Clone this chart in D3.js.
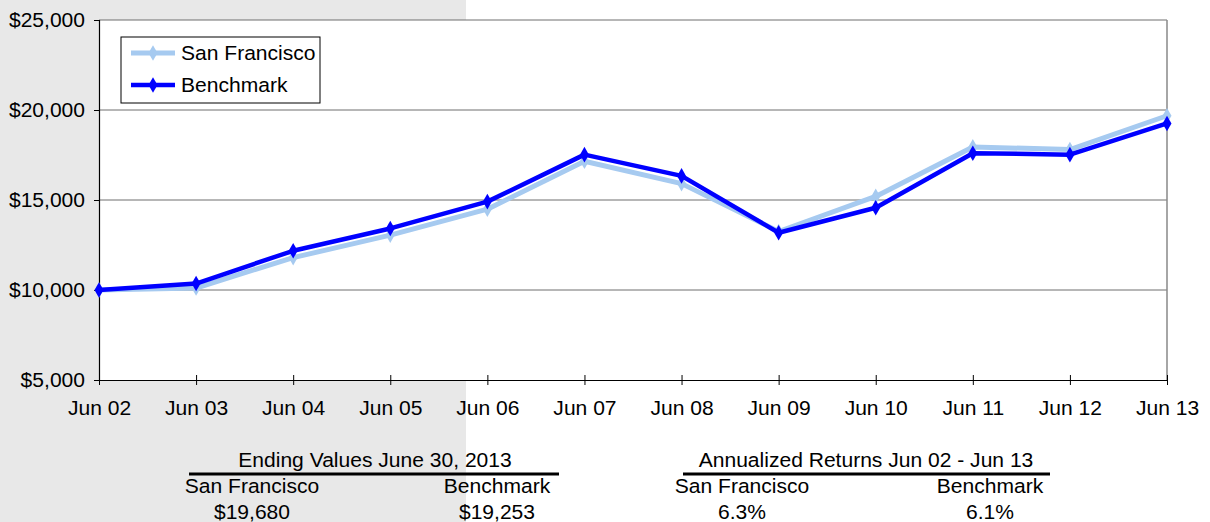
<!DOCTYPE html>
<html>
<head>
<meta charset="utf-8">
<script src="https://cdn.jsdelivr.net/npm/d3@7"></script>
<style>
  body { margin: 0; background: #fff; }
  svg { display: block; font-family: "Liberation Sans", Arial, sans-serif; }
  text { transform-box: fill-box; transform-origin: center; transform: scaleX(1.08); fill: #000; }
  .y-axis text { transform-origin: right center; }
  .legend text { transform-origin: left center; }
</style>
</head>
<body>
<div id="chart"></div>
<script>
const periods = ["Jun 02", "Jun 03", "Jun 04", "Jun 05", "Jun 06", "Jun 07", "Jun 08", "Jun 09", "Jun 10", "Jun 11", "Jun 12", "Jun 13"];
const sanFrancisco = [10000, 10111, 11800, 13050, 14490, 17150, 15910, 13250, 15200, 17950, 17800, 19680];
const benchmark = [10000, 10360, 12180, 13420, 14910, 17520, 16340, 13180, 14570, 17600, 17520, 19253];
const yTicks = [5000, 10000, 15000, 20000, 25000];

const endingTitle = "Ending Values June 30, 2013";
const returnsTitle = "Annualized Returns Jun 02 - Jun 13";
const columnNames = ["San Francisco", "Benchmark"];
const endingValues = ["$19,680", "$19,253"];
const annualReturns = ["6.3%", "6.1%"];

const width = 1210, height = 522;
const margin = { top: 20, right: 43, bottom: 142, left: 99 };
const fontSize = "19.5px";

const svg = d3.select("#chart").append("svg")
  .attr("width", width)
  .attr("height", height);

// grey panel on the left
svg.append("rect")
  .attr("x", 0).attr("y", 0)
  .attr("width", 466).attr("height", height)
  .attr("fill", "#e8e8e8");

const x = d3.scalePoint()
  .domain(periods)
  .range([margin.left, width - margin.right]);

const y = d3.scaleLinear()
  .domain([5000, 25000])
  .range([height - margin.bottom, margin.top]);

// plot area
svg.append("rect")
  .attr("x", margin.left)
  .attr("y", margin.top)
  .attr("width", width - margin.right - margin.left)
  .attr("height", height - margin.bottom - margin.top)
  .attr("fill", "#fff");

// gridlines
svg.append("g")
  .selectAll("line")
  .data(yTicks.slice(1))
  .join("line")
  .attr("x1", margin.left)
  .attr("x2", width - margin.right)
  .attr("y1", d => y(d))
  .attr("y2", d => y(d))
  .attr("stroke", "#6e6e6e")
  .attr("stroke-width", 1);

// right border
svg.append("line")
  .attr("x1", width - margin.right).attr("x2", width - margin.right)
  .attr("y1", margin.top).attr("y2", height - margin.bottom)
  .attr("stroke", "#888")
  .attr("stroke-width", 1.5);

// --- Y axis ---
const yAxis = svg.append("g")
  .attr("class", "y-axis")
  .attr("transform", `translate(${margin.left},0)`)
  .call(d3.axisLeft(y)
    .tickValues(yTicks)
    .tickSize(5)
    .tickPadding(9)
    .tickFormat(d => "$" + d3.format(",")(d)));

yAxis.select(".domain").attr("stroke", "#000").attr("stroke-width", 1.2);
yAxis.selectAll(".tick line").attr("stroke", "#000");
yAxis.selectAll("text").style("font-size", fontSize).attr("fill", "#000");

// --- X axis ---
const xAxis = svg.append("g")
  .attr("transform", `translate(0,${height - margin.bottom})`)
  .call(d3.axisBottom(x).tickSize(5).tickPadding(16).tickSizeOuter(0));

xAxis.select(".domain").attr("stroke", "#000").attr("stroke-width", 1.2);
xAxis.selectAll(".tick line")
  .attr("y1", -5)
  .attr("y2", 5)
  .attr("stroke", "#000");
xAxis.selectAll("text").style("font-size", fontSize).attr("fill", "#000");

// --- Lines ---
const line = d3.line()
  .x((d, i) => x(periods[i]))
  .y(d => y(d));

const series = [
  { name: "San Francisco", values: sanFrancisco, color: "#a6caf0", width: 5 },
  { name: "Benchmark", values: benchmark, color: "#0000ff", width: 4.5 }
];

const diamond = d3.symbol().type(d3.symbolDiamond).size(70);

series.forEach(s => {
  svg.append("path")
    .datum(s.values)
    .attr("fill", "none")
    .attr("stroke", s.color)
    .attr("stroke-width", s.width)
    .attr("stroke-linejoin", "round")
    .attr("d", line);

  svg.append("g")
    .selectAll("path")
    .data(s.values)
    .join("path")
    .attr("transform", (d, i) => `translate(${x(periods[i])},${y(d)})`)
    .attr("d", diamond)
    .attr("fill", s.color);
});

// --- Legend ---
const legend = svg.append("g").attr("class", "legend");

legend.append("rect")
  .attr("x", 121).attr("y", 37)
  .attr("width", 199).attr("height", 66)
  .attr("fill", "#fff")
  .attr("stroke", "#000")
  .attr("stroke-width", 1);

series.forEach((s, i) => {
  const ly = 53 + i * 32;
  legend.append("line")
    .attr("x1", 131).attr("x2", 175)
    .attr("y1", ly).attr("y2", ly)
    .attr("stroke", s.color)
    .attr("stroke-width", s.width);
  legend.append("path")
    .attr("transform", `translate(153,${ly})`)
    .attr("d", diamond)
    .attr("fill", s.color);
  legend.append("text")
    .attr("x", 181)
    .attr("y", ly)
    .attr("dy", "0.35em")
    .style("font-size", fontSize)
    .text(s.name);
});

// --- Summary tables ---
function drawTable(title, values, cx, cols, lineX1, lineX2) {
  const g = svg.append("g");
  g.append("text")
    .attr("x", cx).attr("y", 467)
    .attr("text-anchor", "middle")
    .style("font-size", fontSize)
    .text(title);
  g.append("line")
    .attr("x1", lineX1).attr("x2", lineX2)
    .attr("y1", 474).attr("y2", 474)
    .attr("stroke", "#000")
    .attr("stroke-width", 3);
  columnNames.forEach((name, i) => {
    g.append("text")
      .attr("x", cols[i]).attr("y", 493)
      .attr("text-anchor", "middle")
      .style("font-size", fontSize)
      .text(name);
    g.append("text")
      .attr("x", cols[i]).attr("y", 519)
      .attr("text-anchor", "middle")
      .style("font-size", fontSize)
      .text(values[i]);
  });
}

drawTable(endingTitle, endingValues, 375, [252, 497], 189, 559);
drawTable(returnsTitle, annualReturns, 866, [742, 990], 683, 1050);
</script>
</body>
</html>
